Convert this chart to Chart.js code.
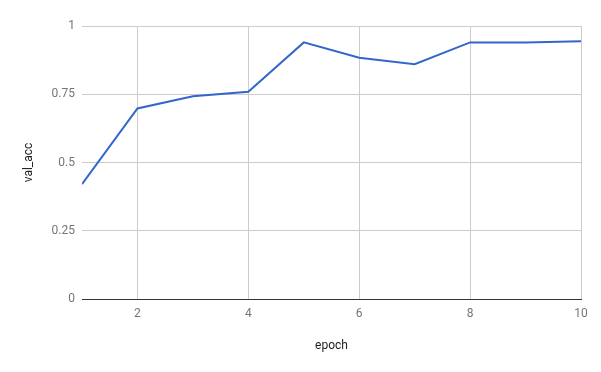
<!DOCTYPE html>
<html>
<head>
<meta charset="utf-8">
<script src="https://cdn.jsdelivr.net/npm/chart.js@4/dist/chart.umd.min.js"></script>
<style>
  html, body { margin: 0; padding: 0; background: #fff; }
  #wrap { width: 601px; height: 372px; }
</style>
</head>
<body>
<div id="wrap"><canvas id="chart" width="601" height="372"></canvas></div>
<script>
// ── Data ────────────────────────────────────────────────────────────────────
const epochs  = [1, 2, 3, 4, 5, 6, 7, 8, 9, 10];
const valAcc  = [0.421, 0.698, 0.743, 0.759, 0.940, 0.884, 0.860, 0.940, 0.940, 0.944];
const xTicks  = [2, 4, 6, 8, 10];
const yTicks  = [0, 0.25, 0.5, 0.75, 1];

const TICK_COLOR  = "#757575";
const TITLE_COLOR = "#222";
const GRID_COLOR  = "#cccccc";
const LINE_COLOR  = "#3366cc";

Chart.defaults.font.family = "Roboto, 'Noto Sans', sans-serif";
Chart.defaults.font.size = 12;

new Chart(document.getElementById("chart"), {
  type: "line",
  data: {
    datasets: [{
      label: "val_acc",
      data: epochs.map((e, i) => ({ x: e, y: valAcc[i] })),
      borderColor: LINE_COLOR,
      borderWidth: 2,
      pointRadius: 0,
      tension: 0,
      fill: false,
    }],
  },
  options: {
    responsive: false,
    animation: false,
    layout: { padding: { left: 0, right: 20, top: 26, bottom: 0 } },
    plugins: { legend: { display: false }, tooltip: { enabled: false } },
    scales: {
      x: {
        type: "linear",
        min: 1, max: 10,
        afterBuildTicks: (s) => { s.ticks = xTicks.map(v => ({ value: v })); },
        afterFit: (s) => { s.height = 372 - 299; },
        ticks: { color: TICK_COLOR, padding: 8, maxRotation: 0 },
        grid: { color: GRID_COLOR, drawTicks: false },
        border: { display: true, color: "#333", width: 1 },
        title: { display: true, text: "epoch", color: TITLE_COLOR, padding: { top: 0, bottom: 19 } },
      },
      y: {
        min: 0, max: 1,
        afterBuildTicks: (s) => { s.ticks = yTicks.map(v => ({ value: v })); },
        afterFit: (s) => { s.width = 82; },
        ticks: { color: TICK_COLOR, padding: 7, callback: (v) => String(v) },
        grid: {
          color: (c) => (c.tick && c.tick.value === 0 ? "#333" : GRID_COLOR),
          drawTicks: false,
        },
        border: { display: false },
        title: { display: true, text: "val_acc", color: TITLE_COLOR, padding: { top: 22, bottom: 0 } },
      },
    },
  },
});
</script>
</body>
</html>
